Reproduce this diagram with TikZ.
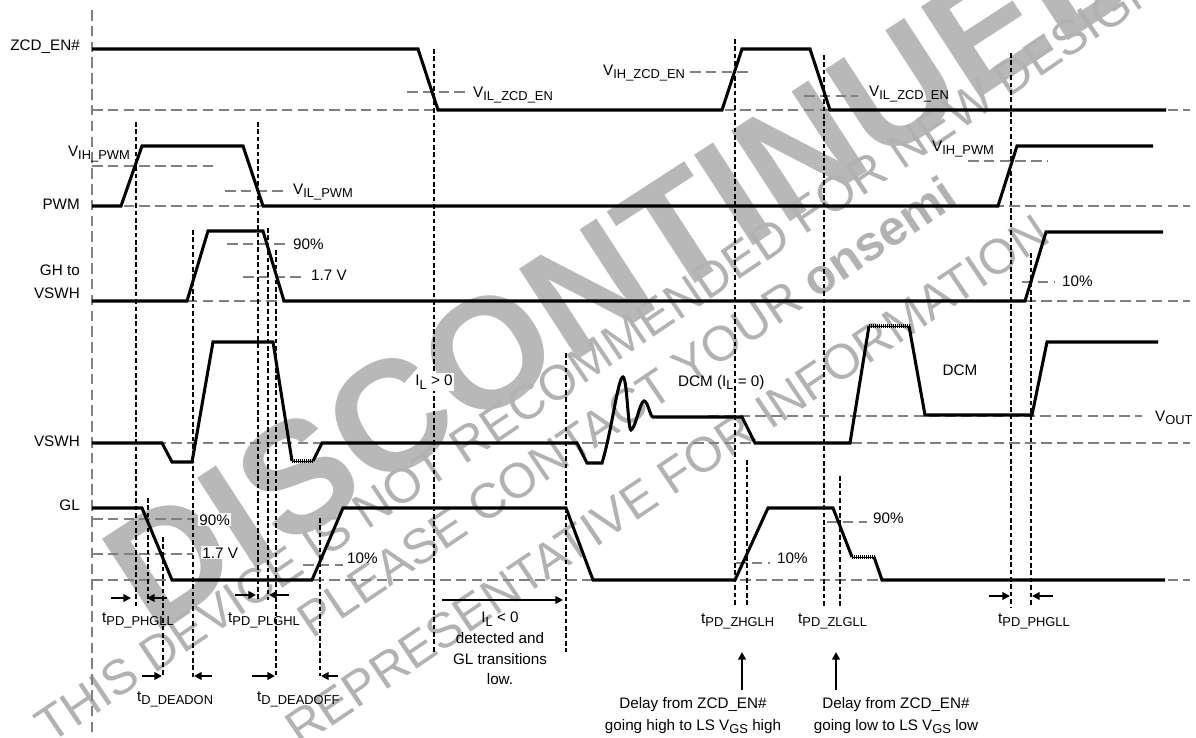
\documentclass[tikz,border=0pt]{standalone}
\usepackage{fontspec}
\setmainfont{Liberation Sans}
\usetikzlibrary{arrows.meta}

\newcommand{\lowtxt}[1]{\raisebox{-3.2pt}{\fontsize{11}{13}\selectfont #1}}

\begin{document}
\begin{tikzpicture}[x=0.03cm, y=-0.03cm,
  sig/.style={line width=2.6pt, line join=miter},
  thr/.style={gray, line width=1.3pt, dash pattern=on 9pt off 4.5pt},
  tline/.style={line width=1.3pt, dash pattern=on 4pt off 2.3pt},
  comb/.style={line width=3.4pt, dash pattern=on 0.6pt off 1.1pt},
  arr/.style={-{Triangle[length=6.5pt,width=6.5pt]}, line width=1.7pt},
  lbl/.style={inner sep=0pt, font=\fontsize{13}{15.6}\selectfont},
  wmbig/.style={inner sep=0pt, black!28, rotate=33, anchor=base west, font=\fontsize{134}{134}\selectfont\bfseries},
  wmtxt/.style={inner sep=0pt, black!30, rotate=34, anchor=base west, font=\fontsize{42}{42}\selectfont}
]
\useasboundingbox (0,0) rectangle (1196,738);

% watermark
\begin{scope}
  \clip (0,0) rectangle (1196,738);
  \node[wmbig] (wmbig) at (152,636) {DISCONTINUED};
  \node[wmtxt] (wm1) at (50,745) {THIS DEVICE IS NOT RECOMMENDED FOR NEW DESIGN};
  \node[wmtxt] (wm2) at (312,640) {PLEASE CONTACT YOUR \textbf{onsemi}};
  \node[wmtxt] (wm3) at (300,748) {REPRESENTATIVE FOR INFORMATION};
\end{scope}

% reference levels
\draw[thr] (92,10) -- (92,738);
\foreach \y in {110,206,301,443,580}
  \draw[thr] (92,\y) -- (1190,\y);
\draw[thr] (708,416) -- (1142,416);
\foreach \xa/\xb/\y in {407/467/92, 690/750/72, 804/858/96, 92/213/166, 225/283/191, 968/1048/161,
    227/285/244, 243/305/277, 1022/1055/282, 92/193/519, 92/193/554, 303/343/565, 736/770/563, 827/867/522}
  \draw[thr] (\xa,\y) -- (\xb,\y);

% timing markers
\foreach \x/\ya/\yb in {136/122/607, 148/498/603, 163/537/677, 193/230/677, 258/122/600, 268/228/600,
    276/250/676, 320/518/676, 434/49/652, 566/353/652, 735/39/607, 747/460/607, 824/55/607,
    840/476/607, 1011/53/607, 1031/253/607}
  \draw[tline] (\x,\ya) -- (\x,\yb);

% waveforms
\draw[sig] (92,49) -- (418,49) -- (438,110) -- (722,110) -- (742,49) -- (810,49) -- (830,110) -- (1166,110);
\draw[sig] (92,206) -- (121,206) -- (142,146) -- (243,146) -- (263,206) -- (998,206) -- (1017,146) -- (1153,146);
\draw[sig] (92,301) -- (187,301) -- (208,231) -- (263,231) -- (284,301) -- (1025,301) -- (1046,232) -- (1163,232);
\draw[sig] (92,443) -- (162,443) -- (172,462) -- (192,462) -- (213,342) -- (273,342) -- (292,461);
\draw[sig] (313,461) -- (322,443) -- (577,443) -- (587,463) -- (602,463)
  .. controls (612,430) and (618,377) .. (623,377)
  .. controls (627,377) and (628,430) .. (631,430)
  .. controls (635,430) and (640,401) .. (644,401)
  .. controls (648,401) and (650,417) .. (653,417)
  -- (742,417) -- (755,443) -- (850,443) -- (869,326);
\draw[sig] (909,326) -- (925,415) -- (1032,415) -- (1047,342) -- (1158,342);
\draw[sig] (92,508) -- (142,508) -- (172,580) -- (312,580) -- (343,508) -- (566,508) -- (593,580)
  -- (735,580) -- (768,508) -- (833,508) -- (852,557);
\draw[sig] (874,557) -- (882,580) -- (1165,580);
\foreach \xa/\xb/\y in {292/313/461, 869/909/326, 852/874/557} {
  \draw[comb] (\xa,\y) -- (\xb,\y);
  \draw[line width=0.8pt] (\xa,\y) -- (\xb,\y);
}

% signal names
\node[lbl, anchor=mid east] (zcd) at (80,47) {ZCD\_EN\#};
\node[lbl, anchor=mid east] (pwm) at (80,206) {PWM};
\node[lbl, anchor=mid east] (gh) at (80,272) {GH to};
\node[lbl, anchor=mid east] (ghv) at (80,295) {VSWH};
\node[lbl, anchor=mid east] (vswh) at (80,443) {VSWH};
\node[lbl, anchor=mid east] (gl) at (80,507) {GL};

% threshold labels
\node[lbl, anchor=mid west] (vilz) at (473,94) {V\lowtxt{IL\_ZCD\_EN}};
\node[lbl, anchor=mid west] (vihz) at (603,72) {V\lowtxt{IH\_ZCD\_EN}};
\node[lbl, anchor=mid west] (vilzb) at (869,93) {V\lowtxt{IL\_ZCD\_EN}};
\node[lbl, anchor=mid east] (vihp) at (130,153) {V\lowtxt{IH\_PWM}};
\node[lbl, anchor=mid west] (vilp) at (293,191) {V\lowtxt{IL\_PWM}};
\node[lbl, anchor=mid west] (vihpb) at (932,148) {V\lowtxt{IH\_PWM}};
\node[lbl, anchor=mid west] (gh90) at (293,246) {90\%};
\node[lbl, anchor=mid west] (gh17) at (311,277) {1.7 V};
\node[lbl, anchor=mid west] (gh10) at (1062,283) {10\%};
\node[lbl, fill=white, inner sep=1.5pt] (ilpos) at (434,382) {I\lowtxt{L} > 0};
\node[lbl, anchor=mid west] (dcmz) at (678,383) {DCM (I\lowtxt{L} = 0)};
\node[lbl] (dcm) at (960,370) {DCM};
\node[lbl, anchor=mid west] (vout) at (1155,418) {V\lowtxt{OUT}};
\node[lbl, anchor=mid west, fill=white, inner sep=1pt] (gl90) at (198,522) {90\%};
\node[lbl, anchor=mid west, fill=white, inner sep=1pt] (gl17) at (201,555) {1.7 V};
\node[lbl, anchor=mid west] (gl10) at (347,560) {10\%};
\node[lbl, anchor=mid west] (gl10b) at (777,560) {10\%};
\node[lbl, anchor=mid west] (gl90b) at (873,520) {90\%};

% timing labels
\node[lbl, anchor=mid west] (tphl) at (102,619) {t\lowtxt{PD\_PHGLL}};
\node[lbl, anchor=mid west] (tplh) at (228,619) {t\lowtxt{PD\_PLGHL}};
\node[lbl, anchor=mid west] (tdon) at (137,698) {t\lowtxt{D\_DEADON}};
\node[lbl, anchor=mid west] (tdoff) at (257,698) {t\lowtxt{D\_DEADOFF}};
\node[lbl, anchor=mid west] (tzh) at (701,620) {t\lowtxt{PD\_ZHGLH}};
\node[lbl, anchor=mid west] (tzl) at (798,620) {t\lowtxt{PD\_ZLGLL}};
\node[lbl, anchor=mid west] (tphlb) at (998,620) {t\lowtxt{PD\_PHGLL}};

\node[lbl, align=center, anchor=north, font=\fontsize{13}{17.6}\selectfont] (ilneg) at (500,612)
  {I\lowtxt{L} < 0\\detected and\\GL transitions\\low.};
\node[lbl, align=center, anchor=north, font=\fontsize{13}{18.7}\selectfont] (dlyh) at (693,697)
  {Delay from ZCD\_EN\#\\going high to LS V\lowtxt{GS} high};
\node[lbl, align=center, anchor=north, font=\fontsize{13}{18.7}\selectfont] (dlyl) at (896,697)
  {Delay from ZCD\_EN\#\\going low to LS V\lowtxt{GS} low};

% arrows
\foreach \xa/\xb/\y in {111/131/598, 167/147/598, 235/256/595, 289/269/595, 142/162/676, 212/194/676,
    252/275/676, 338/321/676, 989/1010/596, 1053/1032/596}
  \draw[arr] (\xa,\y) -- (\xb,\y);
\draw[arr] (442,600) -- (563,600);
\coordinate (zhtip) at (742,652);
\coordinate (zltip) at (836,652);
\draw[arr] (742,690) -- (zhtip);
\draw[arr] (836,690) -- (zltip);

\end{tikzpicture}
\end{document}
